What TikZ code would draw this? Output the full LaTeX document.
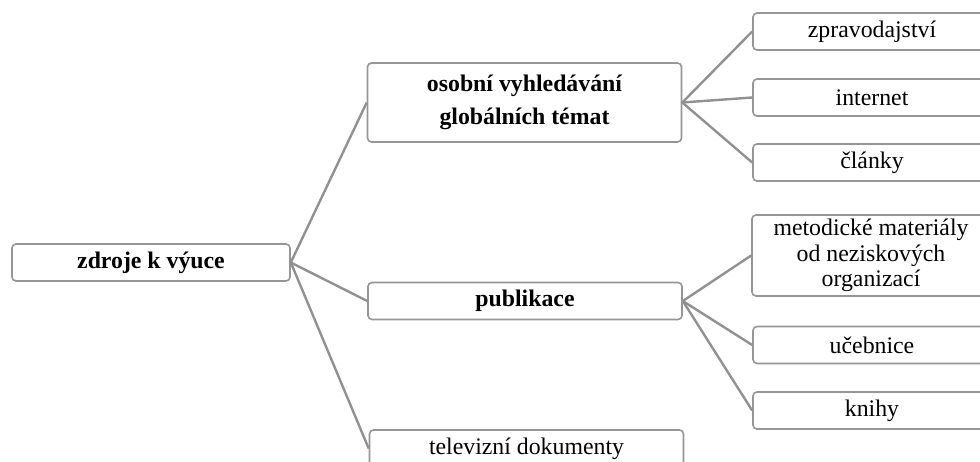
\documentclass[tikz,border=0pt]{standalone}
\usepackage{fontspec}
\setmainfont{Liberation Serif}
\usetikzlibrary{positioning}
\definecolor{boxgray}{RGB}{150,150,150}
\definecolor{linegray}{RGB}{145,145,145}
\tikzset{
  box/.style={draw=boxgray, line width=0.8pt, rounded corners=2pt,
    fill=white, align=center, inner sep=2pt,
    font=\fontsize{11.9}{12.75}\selectfont},
  rootbox/.style={box, minimum width=139pt, minimum height=18.5pt,
    font=\bfseries\fontsize{11.9}{16.5}\selectfont},
  midbox/.style={box, minimum width=157pt, minimum height=18.5pt},
  leafbox/.style={box, minimum width=119pt, minimum height=18.5pt},
  link/.style={draw=linegray, line width=1.2pt},
}

\begin{document}
\begin{tikzpicture}[x=0.5pt, y=-0.5pt]
    \useasboundingbox (0,0) rectangle (980,461);
    \clip (0,0) rectangle (980,461);
    % root
    \node[rootbox] (root) at (151,262.5) {zdroje k výuce};
    % middle level
    \node[midbox, minimum height=39.5pt,
      font=\bfseries\fontsize{11.9}{16.5}\selectfont]
      (osobni) at (524.5,102.5) {osobní vyhledávání\\globálních témat};
    \node[midbox, font=\bfseries\fontsize{11.9}{16.5}\selectfont]
      (publ) at (525,301) {publikace};
    \node[midbox] (tv) at (526.5,448.5) {televizní dokumenty};
    % leaves
    \node[leafbox] (zprav) at (872,31.5) {zpravodajství};
    \node[leafbox] (inet) at (872,97.5) {internet};
    \node[leafbox] (clanky) at (872,162.5) {články};
    \node[leafbox, minimum height=40.5pt] (metod) at (871,255.5)
      {metodické materiály\\od neziskových\\organizací};
    \node[leafbox] (uceb) at (872,345) {učebnice};
    \node[leafbox] (knihy) at (872,410.5) {knihy};
    % connectors
    \draw[link] (root.east) -- (osobni.west);
    \draw[link] (root.east) -- (publ.west);
    \draw[link] (root.east) -- (tv.west);
    \draw[link] (osobni.east) -- (zprav.west);
    \draw[link] (osobni.east) -- (inet.west);
    \draw[link] (osobni.east) -- (clanky.west);
    \draw[link] (publ.east) -- (metod.west);
    \draw[link] (publ.east) -- (uceb.west);
    \draw[link] (publ.east) -- (knihy.west);
\end{tikzpicture}
\end{document}
